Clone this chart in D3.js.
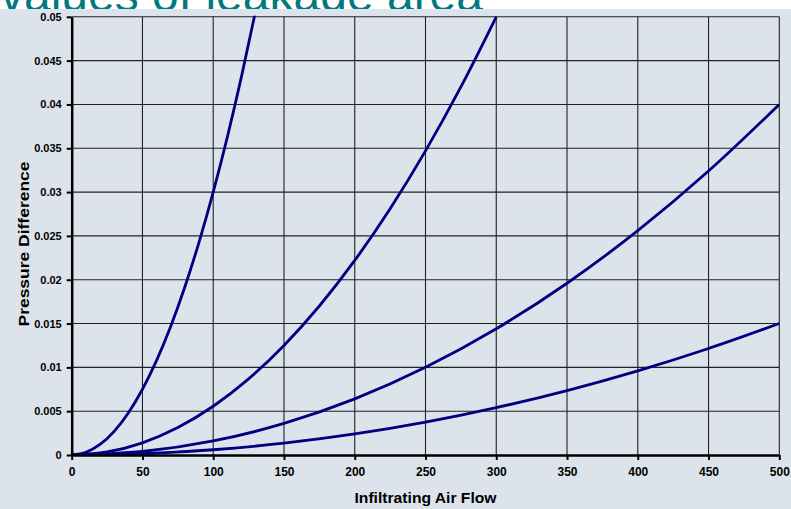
<!DOCTYPE html>
<html>
<head>
<meta charset="utf-8">
<script src="https://cdn.jsdelivr.net/npm/d3@7"></script>
<style>
  html, body { margin: 0; padding: 0; background: #ffffff; }
  svg { display: block; }
  text { font-family: "Liberation Sans", Arial, Helvetica, sans-serif; }
</style>
</head>
<body>
<svg id="chart" width="791" height="509"></svg>
<script>
// ---- data ----
const titleText = "values of leakage area";
const xAxisTitle = "Infiltrating Air Flow";
const yAxisTitle = "Pressure Difference";
const xTicks = [0, 50, 100, 150, 200, 250, 300, 350, 400, 450, 500];
const yTicks = [0, 0.005, 0.01, 0.015, 0.02, 0.025, 0.03, 0.035, 0.04, 0.045, 0.05];
const yTickLabels = ["0", "0.005", "0.01", "0.015", "0.02", "0.025", "0.03", "0.035", "0.04", "0.045", "0.05"];

const flow1 = [0, 10, 20, 30, 40, 50, 60, 70, 80, 90, 100, 110, 120, 130];
const pressure1 = [0, 0.0003, 0.0012, 0.0027, 0.0048, 0.0075, 0.0108, 0.0147, 0.0192, 0.0243, 0.030, 0.0363, 0.0432, 0.0507];

const flow2 = [0, 25, 50, 75, 100, 125, 150, 175, 200, 225, 250, 275, 300];
const pressure2 = [0, 0.00035, 0.00139, 0.00313, 0.00556, 0.00868, 0.0125, 0.0170, 0.0222, 0.0281, 0.0347, 0.0420, 0.050];

const flow3 = [0, 50, 100, 150, 200, 250, 300, 350, 400, 450, 500];
const pressure3 = [0, 0.0004, 0.0016, 0.0036, 0.0064, 0.0100, 0.0144, 0.0196, 0.0256, 0.0324, 0.040];

const flow4 = [0, 50, 100, 150, 200, 250, 300, 350, 400, 450, 500];
const pressure4 = [0, 0.00015, 0.0006, 0.00135, 0.0024, 0.00375, 0.0054, 0.00735, 0.0096, 0.01215, 0.015];

const seriesFlows = [flow1, flow2, flow3, flow4];
const seriesPressures = [pressure1, pressure2, pressure3, pressure4];

// ---- drawing ----
const svg = d3.select("#chart");
const W = 791, H = 509;
const mLeft = 71.7, mRight = 779.3, mTop = 16.8, mBottom = 455;

const x = d3.scaleLinear().domain([0, 500]).range([mLeft, mRight]);
const y = d3.scaleLinear().domain([0, 0.05]).range([mBottom, mTop]);

// title (partly covered by panel, as in the reference)
svg.append("text")
  .attr("x", 0).attr("y", 10.5)
  .attr("fill", "#007a7f")
  .attr("font-size", 48)
  .text(titleText);

// panel
svg.append("rect")
  .attr("x", 0).attr("y", 9).attr("width", W).attr("height", H - 9)
  .attr("fill", "#dde3ea");

// grid
const grid = svg.append("g");
grid.selectAll("line.v").data(xTicks.filter(d => d > 0)).enter().append("line")
  .attr("x1", d => x(d)).attr("x2", d => x(d))
  .attr("y1", mTop).attr("y2", mBottom)
  .attr("stroke", "#222").attr("stroke-width", 1.1);
grid.selectAll("line.h").data(yTicks.filter(d => d > 0)).enter().append("line")
  .attr("x1", mLeft).attr("x2", mRight)
  .attr("y1", d => y(d)).attr("y2", d => y(d))
  .attr("stroke", "#222").attr("stroke-width", 1.1);

// clip
svg.append("clipPath").attr("id", "plotclip").append("rect")
  .attr("x", mLeft).attr("y", mTop - 1).attr("width", mRight - mLeft).attr("height", mBottom - mTop + 1);

const line = d3.line()
  .x(d => x(d[0])).y(d => y(d[1]))
  .curve(d3.curveMonotoneX);

const curves = svg.append("g").attr("clip-path", "url(#plotclip)");
seriesFlows.forEach((fl, i) => {
  const pts = fl.map((f, j) => [f, seriesPressures[i][j]]);
  curves.append("path")
    .attr("d", line(pts))
    .attr("fill", "none")
    .attr("stroke", "#000080")
    .attr("stroke-width", 2.8)
    .attr("stroke-linejoin", "round");
});

// axes
const xAxis = d3.axisBottom(x).tickValues(xTicks).tickSize(5).tickSizeOuter(0).tickPadding(7);
const gx = svg.append("g").attr("transform", `translate(0,${mBottom})`).call(xAxis);
gx.select(".domain").attr("stroke", "#000").attr("stroke-width", 2.5);
gx.selectAll(".tick line").attr("stroke", "#000").attr("stroke-width", 2);
gx.selectAll(".tick text")
  .attr("font-family", "Liberation Sans, Arial, sans-serif")
  .attr("font-size", 12).attr("font-weight", "bold").attr("fill", "#000");

const yAxis = d3.axisLeft(y).tickValues(yTicks).tickFormat((d, i) => yTickLabels[i])
  .tickSize(5).tickSizeOuter(0).tickPadding(5);
const gy = svg.append("g").attr("transform", `translate(${mLeft},0)`).call(yAxis);
gy.select(".domain").attr("stroke", "#000").attr("stroke-width", 2.5);
gy.selectAll(".tick line").attr("stroke", "#000").attr("stroke-width", 2);
gy.selectAll(".tick text")
  .attr("font-family", "Liberation Sans, Arial, sans-serif")
  .attr("font-size", 11).attr("font-weight", "bold").attr("fill", "#000");

// axis titles
svg.append("text")
  .attr("x", (mLeft + mRight) / 2).attr("y", 503)
  .attr("text-anchor", "middle")
  .attr("font-size", 15).attr("font-weight", "bold")
  .attr("textLength", 142).attr("lengthAdjust", "spacingAndGlyphs")
  .text(xAxisTitle);

svg.append("text")
  .attr("transform", `translate(29,244) rotate(-90)`)
  .attr("text-anchor", "middle")
  .attr("font-size", 15).attr("font-weight", "bold")
  .attr("textLength", 165).attr("lengthAdjust", "spacingAndGlyphs")
  .text(yAxisTitle);
</script>
</body>
</html>
